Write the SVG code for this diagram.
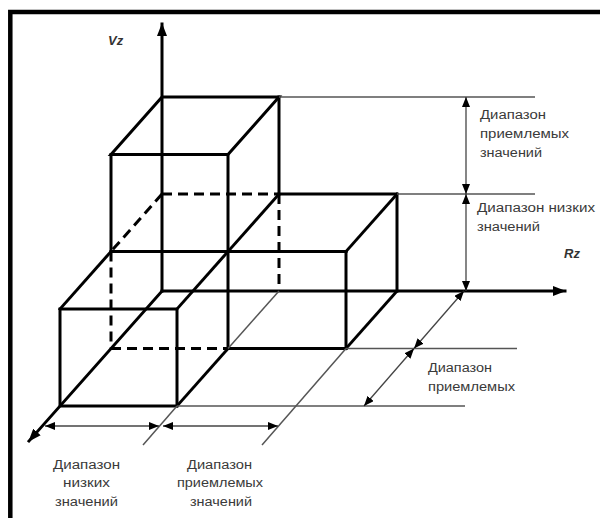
<svg xmlns="http://www.w3.org/2000/svg" width="600" height="518" viewBox="0 0 600 518">
<defs>
<style>
.thick{stroke:#000;stroke-width:3;fill:none;stroke-linecap:square}
.dash{stroke:#000;stroke-width:3;fill:none;stroke-dasharray:10 6}
.thin{stroke:#555;stroke-width:1.5;fill:none}
.dim{stroke:#444;stroke-width:1.3;fill:none;marker-start:url(#sa);marker-end:url(#sa)}
.lbl{font-family:"Liberation Sans",Arial,sans-serif;font-size:12px;fill:#3a3a3a}
.ax{font-family:"Liberation Sans",Arial,sans-serif;font-size:13px;font-weight:bold;font-style:italic;fill:#333}
</style>
<marker id="ba" markerUnits="userSpaceOnUse" markerWidth="14" markerHeight="10" refX="12" refY="5" orient="auto">
<path d="M0,0 L13,5 L0,10 z" fill="#000"/>
</marker>
<marker id="sa" markerUnits="userSpaceOnUse" markerWidth="11" markerHeight="8" refX="10" refY="4" orient="auto-start-reverse">
<path d="M0,0 L10,4 L0,8 z" fill="#000"/>
</marker>
</defs>
<rect width="600" height="518" fill="#fff"/>
<path d="M10.3,520 L10.3,12 L602,12" fill="none" stroke="#000" stroke-width="4.5"/>

<g id="axes">
<line class="thick" x1="162" y1="291" x2="162" y2="24" marker-end="url(#ba)"/>
<line class="thick" x1="162" y1="291" x2="565" y2="291" marker-end="url(#ba)"/>
<line class="thick" x1="162" y1="291" x2="29" y2="441" marker-end="url(#ba)"/>
</g>

<g id="tall-box">
<path class="thick" d="M162,97 L279,97 L228,154.5 L111,154.5 Z"/>
<line class="thick" x1="279" y1="97" x2="279" y2="194"/>
<line class="thick" x1="111" y1="154.5" x2="111" y2="251.5"/>
<line class="thick" x1="228" y1="154.5" x2="228" y2="348.5"/>
</g>

<g id="right-box">
<path class="thick" d="M279,194 L397,194 L397,291"/>
<line class="thick" x1="279" y1="194" x2="228" y2="251.5"/>
<line class="thick" x1="397" y1="194" x2="346" y2="251.5"/>
<line class="thick" x1="111" y1="251.5" x2="346" y2="251.5"/>
<line class="thick" x1="346" y1="251.5" x2="346" y2="348.5"/>
<line class="thick" x1="228" y1="348.5" x2="346" y2="348.5"/>
<line class="thick" x1="397" y1="291" x2="346" y2="348.5"/>
</g>

<g id="front-box">
<line class="thick" x1="111" y1="251.5" x2="60" y2="309"/>
<line class="thick" x1="228" y1="251.5" x2="177" y2="309"/>
<rect class="thick" x="60" y="309" width="117" height="97"/>
<line class="thick" x1="228" y1="348.5" x2="177" y2="406"/>
</g>

<g id="hidden-edges">
<line class="dash" x1="162" y1="194" x2="279" y2="194"/>
<line class="dash" x1="162" y1="194" x2="111" y2="251.5"/>
<line class="dash" x1="111" y1="251.5" x2="111" y2="348.5"/>
<line class="dash" x1="111" y1="348.5" x2="228" y2="348.5"/>
<line class="dash" x1="279" y1="194" x2="279" y2="291"/>
<line class="thin" x1="279" y1="291" x2="228" y2="348.5"/>
</g>

<g id="connectors">
<line class="thin" x1="279" y1="97" x2="535" y2="97"/>
<line class="thin" x1="397" y1="194" x2="535" y2="194"/>
<line class="thin" x1="346" y1="348.5" x2="517" y2="348.5"/>
<line class="thin" x1="177" y1="406" x2="465" y2="406"/>
<line class="thin" x1="177" y1="406" x2="143" y2="445"/>
<line class="thin" x1="346" y1="348.5" x2="262" y2="445"/>
<line class="dim" x1="466" y1="97" x2="466" y2="194"/>
<line class="dim" x1="466" y1="194" x2="466" y2="291"/>
<line class="dim" x1="464" y1="291" x2="414" y2="348.5"/>
<line class="dim" x1="414" y1="348.5" x2="364" y2="406"/>
<line class="dim" x1="45" y1="426" x2="159" y2="426"/>
<line class="dim" x1="163" y1="426" x2="278" y2="426"/>
</g>

<g id="labels">
<text class="ax" x="108" y="45">Vz</text>
<text class="ax" x="564" y="258">Rz</text>
<text class="lbl" x="480" y="119" textLength="66" lengthAdjust="spacingAndGlyphs">Диапазон</text>
<text class="lbl" x="480" y="138" textLength="89" lengthAdjust="spacingAndGlyphs">приемлемых</text>
<text class="lbl" x="480" y="157" textLength="62" lengthAdjust="spacingAndGlyphs">значений</text>
<text class="lbl" x="477" y="212" textLength="118" lengthAdjust="spacingAndGlyphs">Диапазон низких</text>
<text class="lbl" x="477" y="231" textLength="63" lengthAdjust="spacingAndGlyphs">значений</text>
<text class="lbl" x="428" y="372" textLength="64" lengthAdjust="spacingAndGlyphs">Диапазон</text>
<text class="lbl" x="428" y="391" textLength="87" lengthAdjust="spacingAndGlyphs">приемлемых</text>
<text class="lbl" x="53" y="469" textLength="67" lengthAdjust="spacingAndGlyphs">Диапазон</text>
<text class="lbl" x="63" y="487" textLength="47" lengthAdjust="spacingAndGlyphs">низких</text>
<text class="lbl" x="55" y="506" textLength="63" lengthAdjust="spacingAndGlyphs">значений</text>
<text class="lbl" x="187" y="469" textLength="65" lengthAdjust="spacingAndGlyphs">Диапазон</text>
<text class="lbl" x="177" y="487" textLength="86" lengthAdjust="spacingAndGlyphs">приемлемых</text>
<text class="lbl" x="190" y="506" textLength="62" lengthAdjust="spacingAndGlyphs">значений</text>
</g>
</svg>
